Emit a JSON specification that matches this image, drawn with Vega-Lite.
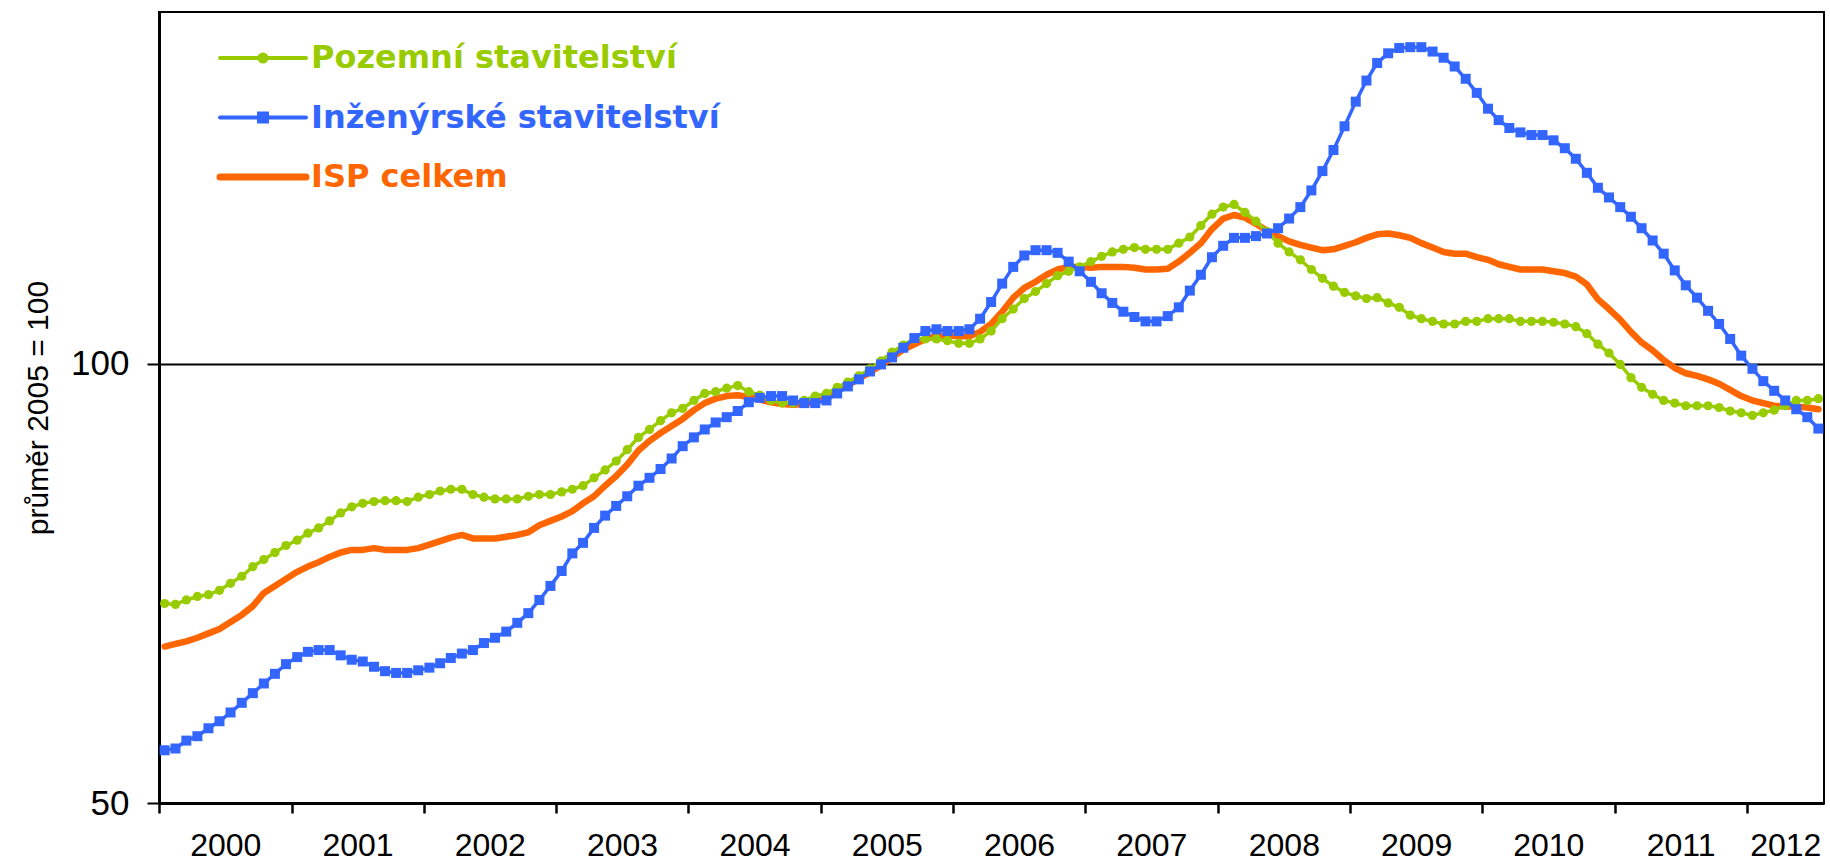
{
"$schema": "https://vega.github.io/schema/vega-lite/v6.json",
"width": 1665, "height": 791,
"autosize": {"type": "none"},
"padding": {"left": 159, "top": 12, "right": 6, "bottom": 60},
"background": "white",
"config": {"view": {"stroke": "black", "strokeWidth": 2}, "font": "Liberation Sans"},
"data": {"values": [
{"d":"2000-01-01","Pozemní stavitelství":72.7,"Inženýrské stavitelství":56.0,"ISP celkem":67.8},
{"d":"2000-02-01","Pozemní stavitelství":72.6,"Inženýrské stavitelství":56.2,"ISP celkem":68.1},
{"d":"2000-03-01","Pozemní stavitelství":73.1,"Inženýrské stavitelství":57.1,"ISP celkem":68.4},
{"d":"2000-04-01","Pozemní stavitelství":73.5,"Inženýrské stavitelství":57.6,"ISP celkem":68.8},
{"d":"2000-05-01","Pozemní stavitelství":73.7,"Inženýrské stavitelství":58.5,"ISP celkem":69.3},
{"d":"2000-06-01","Pozemní stavitelství":74.2,"Inženýrské stavitelství":59.3,"ISP celkem":69.8},
{"d":"2000-07-01","Pozemní stavitelství":75.0,"Inženýrské stavitelství":60.3,"ISP celkem":70.6},
{"d":"2000-08-01","Pozemní stavitelství":75.8,"Inženýrské stavitelství":61.4,"ISP celkem":71.4},
{"d":"2000-09-01","Pozemní stavitelství":76.9,"Inženýrské stavitelství":62.5,"ISP celkem":72.4},
{"d":"2000-10-01","Pozemní stavitelství":77.7,"Inženýrské stavitelství":63.6,"ISP celkem":73.9},
{"d":"2000-11-01","Pozemní stavitelství":78.5,"Inženýrské stavitelství":64.7,"ISP celkem":74.7},
{"d":"2000-12-01","Pozemní stavitelství":79.3,"Inženýrské stavitelství":65.8,"ISP celkem":75.5},
{"d":"2001-01-01","Pozemní stavitelství":79.9,"Inženýrské stavitelství":66.6,"ISP celkem":76.3},
{"d":"2001-02-01","Pozemní stavitelství":80.7,"Inženýrské stavitelství":67.2,"ISP celkem":76.9},
{"d":"2001-03-01","Pozemní stavitelství":81.3,"Inženýrské stavitelství":67.4,"ISP celkem":77.4},
{"d":"2001-04-01","Pozemní stavitelství":82.1,"Inženýrské stavitelství":67.4,"ISP celkem":78.0},
{"d":"2001-05-01","Pozemní stavitelství":83.0,"Inženýrské stavitelství":66.8,"ISP celkem":78.5},
{"d":"2001-06-01","Pozemní stavitelství":83.7,"Inženýrské stavitelství":66.3,"ISP celkem":78.8},
{"d":"2001-07-01","Pozemní stavitelství":84.1,"Inženýrské stavitelství":66.1,"ISP celkem":78.8},
{"d":"2001-08-01","Pozemní stavitelství":84.3,"Inženýrské stavitelství":65.5,"ISP celkem":79.0},
{"d":"2001-09-01","Pozemní stavitelství":84.4,"Inženýrské stavitelství":65.0,"ISP celkem":78.8},
{"d":"2001-10-01","Pozemní stavitelství":84.4,"Inženýrské stavitelství":64.8,"ISP celkem":78.8},
{"d":"2001-11-01","Pozemní stavitelství":84.3,"Inženýrské stavitelství":64.8,"ISP celkem":78.8},
{"d":"2001-12-01","Pozemní stavitelství":84.8,"Inženýrské stavitelství":65.1,"ISP celkem":79.0},
{"d":"2002-01-01","Pozemní stavitelství":85.1,"Inženýrské stavitelství":65.4,"ISP celkem":79.4},
{"d":"2002-02-01","Pozemní stavitelství":85.5,"Inženýrské stavitelství":65.9,"ISP celkem":79.8},
{"d":"2002-03-01","Pozemní stavitelství":85.7,"Inženýrské stavitelství":66.5,"ISP celkem":80.2},
{"d":"2002-04-01","Pozemní stavitelství":85.7,"Inženýrské stavitelství":67.0,"ISP celkem":80.5},
{"d":"2002-05-01","Pozemní stavitelství":85.1,"Inženýrské stavitelství":67.4,"ISP celkem":80.1},
{"d":"2002-06-01","Pozemní stavitelství":84.8,"Inženýrské stavitelství":68.2,"ISP celkem":80.1},
{"d":"2002-07-01","Pozemní stavitelství":84.6,"Inženýrské stavitelství":68.8,"ISP celkem":80.1},
{"d":"2002-08-01","Pozemní stavitelství":84.6,"Inženýrské stavitelství":69.5,"ISP celkem":80.3},
{"d":"2002-09-01","Pozemní stavitelství":84.6,"Inženýrské stavitelství":70.5,"ISP celkem":80.5},
{"d":"2002-10-01","Pozemní stavitelství":84.9,"Inženýrské stavitelství":71.6,"ISP celkem":80.8},
{"d":"2002-11-01","Pozemní stavitelství":85.1,"Inženýrské stavitelství":73.1,"ISP celkem":81.6},
{"d":"2002-12-01","Pozemní stavitelství":85.1,"Inženýrské stavitelství":74.7,"ISP celkem":82.1},
{"d":"2003-01-01","Pozemní stavitelství":85.4,"Inženýrské stavitelství":76.4,"ISP celkem":82.6},
{"d":"2003-02-01","Pozemní stavitelství":85.7,"Inženýrské stavitelství":78.4,"ISP celkem":83.2},
{"d":"2003-03-01","Pozemní stavitelství":86.1,"Inženýrské stavitelství":79.6,"ISP celkem":84.1},
{"d":"2003-04-01","Pozemní stavitelství":87.0,"Inženýrské stavitelství":81.3,"ISP celkem":84.9},
{"d":"2003-05-01","Pozemní stavitelství":87.9,"Inženýrské stavitelství":82.7,"ISP celkem":86.1},
{"d":"2003-06-01","Pozemní stavitelství":88.9,"Inženýrské stavitelství":83.8,"ISP celkem":87.2},
{"d":"2003-07-01","Pozemní stavitelství":90.2,"Inženýrské stavitelství":84.9,"ISP celkem":88.5},
{"d":"2003-08-01","Pozemní stavitelství":91.6,"Inženýrské stavitelství":86.1,"ISP celkem":90.1},
{"d":"2003-09-01","Pozemní stavitelství":92.5,"Inženýrské stavitelství":87.0,"ISP celkem":91.2},
{"d":"2003-10-01","Pozemní stavitelství":93.5,"Inženýrské stavitelství":88.0,"ISP celkem":92.1},
{"d":"2003-11-01","Pozemní stavitelství":94.4,"Inženýrské stavitelství":89.2,"ISP celkem":92.9},
{"d":"2003-12-01","Pozemní stavitelství":94.9,"Inženýrské stavitelství":90.6,"ISP celkem":93.7},
{"d":"2004-01-01","Pozemní stavitelství":95.8,"Inženýrské stavitelství":91.6,"ISP celkem":94.7},
{"d":"2004-02-01","Pozemní stavitelství":96.6,"Inženýrské stavitelství":92.5,"ISP celkem":95.5},
{"d":"2004-03-01","Pozemní stavitelství":96.8,"Inženýrské stavitelství":93.3,"ISP celkem":96.0},
{"d":"2004-04-01","Pozemní stavitelství":97.2,"Inženýrské stavitelství":93.9,"ISP celkem":96.3},
{"d":"2004-05-01","Pozemní stavitelství":97.5,"Inženýrské stavitelství":94.6,"ISP celkem":96.4},
{"d":"2004-06-01","Pozemní stavitelství":96.8,"Inženýrské stavitelství":95.6,"ISP celkem":96.2},
{"d":"2004-07-01","Pozemní stavitelství":96.4,"Inženýrské stavitelství":96.1,"ISP celkem":95.9},
{"d":"2004-08-01","Pozemní stavitelství":95.8,"Inženýrské stavitelství":96.3,"ISP celkem":95.6},
{"d":"2004-09-01","Pozemní stavitelství":95.5,"Inženýrské stavitelství":96.3,"ISP celkem":95.4},
{"d":"2004-10-01","Pozemní stavitelství":95.5,"Inženýrské stavitelství":95.8,"ISP celkem":95.3},
{"d":"2004-11-01","Pozemní stavitelství":95.8,"Inženýrské stavitelství":95.5,"ISP celkem":95.4},
{"d":"2004-12-01","Pozemní stavitelství":96.3,"Inženýrské stavitelství":95.5,"ISP celkem":95.6},
{"d":"2005-01-01","Pozemní stavitelství":96.6,"Inženýrské stavitelství":95.8,"ISP celkem":96.1},
{"d":"2005-02-01","Pozemní stavitelství":97.3,"Inženýrské stavitelství":96.6,"ISP celkem":96.9},
{"d":"2005-03-01","Pozemní stavitelství":97.9,"Inženýrské stavitelství":97.4,"ISP celkem":97.5},
{"d":"2005-04-01","Pozemní stavitelství":98.6,"Inženýrské stavitelství":98.2,"ISP celkem":98.3},
{"d":"2005-05-01","Pozemní stavitelství":99.4,"Inženýrské stavitelství":99.1,"ISP celkem":99.0},
{"d":"2005-06-01","Pozemní stavitelství":100.3,"Inženýrské stavitelství":99.9,"ISP celkem":99.8},
{"d":"2005-07-01","Pozemní stavitelství":101.3,"Inženýrské stavitelství":100.7,"ISP celkem":100.7},
{"d":"2005-08-01","Pozemní stavitelství":102.1,"Inženýrské stavitelství":101.8,"ISP celkem":101.6},
{"d":"2005-09-01","Pozemní stavitelství":102.8,"Inženýrské stavitelství":102.9,"ISP celkem":102.2},
{"d":"2005-10-01","Pozemní stavitelství":102.8,"Inženýrské stavitelství":103.7,"ISP celkem":102.8},
{"d":"2005-11-01","Pozemní stavitelství":102.8,"Inženýrské stavitelství":103.9,"ISP celkem":103.1},
{"d":"2005-12-01","Pozemní stavitelství":102.6,"Inženýrské stavitelství":103.7,"ISP celkem":103.2},
{"d":"2006-01-01","Pozemní stavitelství":102.3,"Inženýrské stavitelství":103.7,"ISP celkem":103.1},
{"d":"2006-02-01","Pozemní stavitelství":102.3,"Inženýrské stavitelství":103.9,"ISP celkem":103.1},
{"d":"2006-03-01","Pozemní stavitelství":102.8,"Inženýrské stavitelství":105.1,"ISP celkem":103.6},
{"d":"2006-04-01","Pozemní stavitelství":103.7,"Inženýrské stavitelství":107.0,"ISP celkem":104.5},
{"d":"2006-05-01","Pozemní stavitelství":105.1,"Inženýrské stavitelství":109.1,"ISP celkem":105.9},
{"d":"2006-06-01","Pozemní stavitelství":106.2,"Inženýrské stavitelství":111.0,"ISP celkem":107.5},
{"d":"2006-07-01","Pozemní stavitelství":107.4,"Inženýrské stavitelství":112.3,"ISP celkem":108.6},
{"d":"2006-08-01","Pozemní stavitelství":108.2,"Inženýrské stavitelství":112.9,"ISP celkem":109.3},
{"d":"2006-09-01","Pozemní stavitelství":109.1,"Inženýrské stavitelství":112.9,"ISP celkem":110.1},
{"d":"2006-10-01","Pozemní stavitelství":110.0,"Inženýrské stavitelství":112.6,"ISP celkem":110.7},
{"d":"2006-11-01","Pozemní stavitelství":110.5,"Inženýrské stavitelství":111.6,"ISP celkem":111.0},
{"d":"2006-12-01","Pozemní stavitelství":111.0,"Inženýrské stavitelství":110.5,"ISP celkem":111.0},
{"d":"2007-01-01","Pozemní stavitelství":111.6,"Inženýrské stavitelství":109.3,"ISP celkem":110.9},
{"d":"2007-02-01","Pozemní stavitelství":112.2,"Inženýrské stavitelství":108.0,"ISP celkem":111.0},
{"d":"2007-03-01","Pozemní stavitelství":112.7,"Inženýrské stavitelství":106.9,"ISP celkem":111.0},
{"d":"2007-04-01","Pozemní stavitelství":113.0,"Inženýrské stavitelství":105.9,"ISP celkem":111.0},
{"d":"2007-05-01","Pozemní stavitelství":113.2,"Inženýrské stavitelství":105.3,"ISP celkem":110.9},
{"d":"2007-06-01","Pozemní stavitelství":113.0,"Inženýrské stavitelství":104.8,"ISP celkem":110.7},
{"d":"2007-07-01","Pozemní stavitelství":113.0,"Inženýrské stavitelství":104.8,"ISP celkem":110.7},
{"d":"2007-08-01","Pozemní stavitelství":113.0,"Inženýrské stavitelství":105.4,"ISP celkem":110.8},
{"d":"2007-09-01","Pozemní stavitelství":113.7,"Inženýrské stavitelství":106.4,"ISP celkem":111.6},
{"d":"2007-10-01","Pozemní stavitelství":114.4,"Inženýrské stavitelství":108.3,"ISP celkem":112.6},
{"d":"2007-11-01","Pozemní stavitelství":115.7,"Inženýrské stavitelství":110.1,"ISP celkem":113.7},
{"d":"2007-12-01","Pozemní stavitelství":117.0,"Inženýrské stavitelství":112.1,"ISP celkem":115.3},
{"d":"2008-01-01","Pozemní stavitelství":117.8,"Inženýrské stavitelství":113.4,"ISP celkem":116.5},
{"d":"2008-02-01","Pozemní stavitelství":118.1,"Inženýrské stavitelství":114.3,"ISP celkem":116.9},
{"d":"2008-03-01","Pozemní stavitelství":117.2,"Inženýrské stavitelství":114.3,"ISP celkem":116.6},
{"d":"2008-04-01","Pozemní stavitelství":116.2,"Inženýrské stavitelství":114.5,"ISP celkem":115.9},
{"d":"2008-05-01","Pozemní stavitelství":115.0,"Inženýrské stavitelství":114.8,"ISP celkem":115.1},
{"d":"2008-06-01","Pozemní stavitelství":113.7,"Inženýrské stavitelství":115.4,"ISP celkem":114.5},
{"d":"2008-07-01","Pozemní stavitelství":112.7,"Inženýrské stavitelství":116.5,"ISP celkem":113.9},
{"d":"2008-08-01","Pozemní stavitelství":111.8,"Inženýrské stavitelství":117.8,"ISP celkem":113.5},
{"d":"2008-09-01","Pozemní stavitelství":110.7,"Inženýrské stavitelství":119.7,"ISP celkem":113.2},
{"d":"2008-10-01","Pozemní stavitelství":109.7,"Inženýrské stavitelství":121.9,"ISP celkem":112.9},
{"d":"2008-11-01","Pozemní stavitelství":108.8,"Inženýrské stavitelství":124.3,"ISP celkem":113.0},
{"d":"2008-12-01","Pozemní stavitelství":108.1,"Inženýrské stavitelství":127.0,"ISP celkem":113.4},
{"d":"2009-01-01","Pozemní stavitelství":107.7,"Inženýrské stavitelství":129.8,"ISP celkem":113.8},
{"d":"2009-02-01","Pozemní stavitelství":107.4,"Inženýrské stavitelství":132.2,"ISP celkem":114.3},
{"d":"2009-03-01","Pozemní stavitelství":107.5,"Inženýrské stavitelství":134.2,"ISP celkem":114.7},
{"d":"2009-04-01","Pozemní stavitelství":106.9,"Inženýrské stavitelství":135.3,"ISP celkem":114.8},
{"d":"2009-05-01","Pozemní stavitelství":106.4,"Inženýrské stavitelství":135.9,"ISP celkem":114.6},
{"d":"2009-06-01","Pozemní stavitelství":105.5,"Inženýrské stavitelství":136.0,"ISP celkem":114.3},
{"d":"2009-07-01","Pozemní stavitelství":105.1,"Inženýrské stavitelství":136.0,"ISP celkem":113.7},
{"d":"2009-08-01","Pozemní stavitelství":104.8,"Inženýrské stavitelství":135.5,"ISP celkem":113.2},
{"d":"2009-09-01","Pozemní stavitelství":104.5,"Inženýrské stavitelství":134.8,"ISP celkem":112.7},
{"d":"2009-10-01","Pozemní stavitelství":104.5,"Inženýrské stavitelství":133.8,"ISP celkem":112.5},
{"d":"2009-11-01","Pozemní stavitelství":104.8,"Inženýrské stavitelství":132.4,"ISP celkem":112.5},
{"d":"2009-12-01","Pozemní stavitelství":104.8,"Inženýrské stavitelství":130.8,"ISP celkem":112.1},
{"d":"2010-01-01","Pozemní stavitelství":105.1,"Inženýrské stavitelství":129.0,"ISP celkem":111.8},
{"d":"2010-02-01","Pozemní stavitelství":105.1,"Inženýrské stavitelství":127.7,"ISP celkem":111.3},
{"d":"2010-03-01","Pozemní stavitelství":105.1,"Inženýrské stavitelství":126.8,"ISP celkem":111.0},
{"d":"2010-04-01","Pozemní stavitelství":104.8,"Inženýrské stavitelství":126.3,"ISP celkem":110.7},
{"d":"2010-05-01","Pozemní stavitelství":104.8,"Inženýrské stavitelství":126.0,"ISP celkem":110.7},
{"d":"2010-06-01","Pozemní stavitelství":104.8,"Inženýrské stavitelství":126.0,"ISP celkem":110.7},
{"d":"2010-07-01","Pozemní stavitelství":104.7,"Inženýrské stavitelství":125.4,"ISP celkem":110.5},
{"d":"2010-08-01","Pozemní stavitelství":104.5,"Inženýrské stavitelství":124.5,"ISP celkem":110.3},
{"d":"2010-09-01","Pozemní stavitelství":104.2,"Inženýrské stavitelství":123.3,"ISP celkem":109.9},
{"d":"2010-10-01","Pozemní stavitelství":103.4,"Inženýrské stavitelství":121.7,"ISP celkem":109.0},
{"d":"2010-11-01","Pozemní stavitelství":102.2,"Inženýrské stavitelství":120.0,"ISP celkem":107.3},
{"d":"2010-12-01","Pozemní stavitelství":101.2,"Inženýrské stavitelství":118.9,"ISP celkem":106.2},
{"d":"2011-01-01","Pozemní stavitelství":99.9,"Inženýrské stavitelství":117.8,"ISP celkem":105.0},
{"d":"2011-02-01","Pozemní stavitelství":98.4,"Inženýrské stavitelství":116.7,"ISP celkem":103.6},
{"d":"2011-03-01","Pozemní stavitelství":97.3,"Inženýrské stavitelství":115.4,"ISP celkem":102.4},
{"d":"2011-04-01","Pozemní stavitelství":96.5,"Inženýrské stavitelství":114.0,"ISP celkem":101.5},
{"d":"2011-05-01","Pozemní stavitelství":95.8,"Inženýrské stavitelství":112.5,"ISP celkem":100.4},
{"d":"2011-06-01","Pozemní stavitelství":95.5,"Inženýrské stavitelství":110.6,"ISP celkem":99.5},
{"d":"2011-07-01","Pozemní stavitelství":95.2,"Inženýrské stavitelství":108.9,"ISP celkem":98.9},
{"d":"2011-08-01","Pozemní stavitelství":95.2,"Inženýrské stavitelství":107.5,"ISP celkem":98.6},
{"d":"2011-09-01","Pozemní stavitelství":95.2,"Inženýrské stavitelství":106.0,"ISP celkem":98.2},
{"d":"2011-10-01","Pozemní stavitelství":95.0,"Inženýrské stavitelství":104.5,"ISP celkem":97.7},
{"d":"2011-11-01","Pozemní stavitelství":94.6,"Inženýrské stavitelství":102.8,"ISP celkem":97.0},
{"d":"2011-12-01","Pozemní stavitelství":94.4,"Inženýrské stavitelství":100.9,"ISP celkem":96.3},
{"d":"2012-01-01","Pozemní stavitelství":94.1,"Inženýrské stavitelství":99.4,"ISP celkem":95.8},
{"d":"2012-02-01","Pozemní stavitelství":94.4,"Inženýrské stavitelství":98.0,"ISP celkem":95.5},
{"d":"2012-03-01","Pozemní stavitelství":94.7,"Inženýrské stavitelství":96.9,"ISP celkem":95.2},
{"d":"2012-04-01","Pozemní stavitelství":95.2,"Inženýrské stavitelství":95.8,"ISP celkem":95.1},
{"d":"2012-05-01","Pozemní stavitelství":95.8,"Inženýrské stavitelství":94.8,"ISP celkem":95.1},
{"d":"2012-06-01","Pozemní stavitelství":95.8,"Inženýrské stavitelství":93.9,"ISP celkem":95.0},
{"d":"2012-07-01","Pozemní stavitelství":96.0,"Inženýrské stavitelství":92.6,"ISP celkem":94.8}
]},
"transform": [{"fold": ["Pozemní stavitelství", "Inženýrské stavitelství", "ISP celkem"], "as": ["s", "v"]}],
"encoding": {
  "x": {"field": "d", "type": "temporal", "timeUnit": "utcyearmonth", "bandPosition": 0.5,
    "scale": {"domain": [{"year": 2000, "month": 1, "date": 1, "utc": true}, {"year": 2012, "month": 8, "date": 1, "utc": true}]},
    "axis": {
      "title": null, "grid": false,
      "values": [
        {"year": 2000, "month": 1, "date": 1, "utc": true}, {"year": 2001, "month": 1, "date": 1, "utc": true},
        {"year": 2002, "month": 1, "date": 1, "utc": true}, {"year": 2003, "month": 1, "date": 1, "utc": true},
        {"year": 2004, "month": 1, "date": 1, "utc": true}, {"year": 2005, "month": 1, "date": 1, "utc": true},
        {"year": 2006, "month": 1, "date": 1, "utc": true}, {"year": 2007, "month": 1, "date": 1, "utc": true},
        {"year": 2008, "month": 1, "date": 1, "utc": true}, {"year": 2009, "month": 1, "date": 1, "utc": true},
        {"year": 2010, "month": 1, "date": 1, "utc": true}, {"year": 2011, "month": 1, "date": 1, "utc": true},
        {"year": 2012, "month": 1, "date": 1, "utc": true},
        {"year": 2000, "month": 7, "date": 2, "utc": true}, {"year": 2001, "month": 7, "date": 2, "utc": true},
        {"year": 2002, "month": 7, "date": 2, "utc": true}, {"year": 2003, "month": 7, "date": 2, "utc": true},
        {"year": 2004, "month": 7, "date": 2, "utc": true}, {"year": 2005, "month": 7, "date": 2, "utc": true},
        {"year": 2006, "month": 7, "date": 2, "utc": true}, {"year": 2007, "month": 7, "date": 2, "utc": true},
        {"year": 2008, "month": 7, "date": 2, "utc": true}, {"year": 2009, "month": 7, "date": 2, "utc": true},
        {"year": 2010, "month": 7, "date": 2, "utc": true}, {"year": 2011, "month": 7, "date": 2, "utc": true},
        {"year": 2012, "month": 4, "date": 16, "utc": true}
      ],
      "labelExpr": "utcmonth(datum.value) === 0 ? '' : utcFormat(datum.value, '%Y')",
      "tickOpacity": {"condition": {"test": "utcmonth(datum.value) !== 0", "value": 0}, "value": 1},
      "tickSize": 10, "tickWidth": 2.5, "tickColor": "black",
      "domainColor": "black", "domainWidth": 3,
      "labelFont": "Liberation Sans", "labelFontSize": 32, "labelColor": "black", "labelPadding": 17,
      "labelFlush": false, "labelOverlap": false
    }},
  "y": {"field": "v", "type": "quantitative",
    "scale": {"domain": [50, 140], "nice": false, "zero": false},
    "axis": {
      "values": [50, 100], "title": "průměr 2005 = 100",
      "titleFont": "Liberation Sans", "titleFontSize": 30, "titleFontWeight": "normal", "titleColor": "black", "titlePadding": 17,
      "grid": true, "gridColor": "black", "gridWidth": 2, "gridOpacity": 1,
      "tickSize": 12, "tickWidth": 2, "tickColor": "black",
      "domainColor": "black", "domainWidth": 3,
      "labelFont": "Liberation Sans", "labelFontSize": 35, "labelColor": "black", "labelPadding": 18
    }},
  "color": {"field": "s", "type": "nominal",
    "scale": {"domain": ["Pozemní stavitelství", "Inženýrské stavitelství", "ISP celkem"], "range": ["#99CC00", "#3366FF", "#FF6600"]},
    "legend": {
      "orient": "none", "legendX": 61, "legendY": 30, "title": null, "padding": 0,
      "symbolSize": 100, "symbolOffset": 27, "labelOffset": 32, "rowPadding": 27.5,
      "labelFont": "DejaVu Sans", "labelFontWeight": "bold", "labelFontSize": 32, "labelLimit": 800,
      "encode": {
        "symbols": {"update": {
          "shape": {"signal": "datum.value === 'ISP celkem' ? 'M-8.6,0H8.6' : (datum.value === 'Pozemní stavitelství' ? 'M-8.6,0H8.6M0.7,0A0.7,0.7,0,1,1,-0.7,0A0.7,0.7,0,1,1,0.7,0Z' : 'M-8.6,0H8.6M-0.8,-0.8H0.8V0.8H-0.8Z')"},
          "fill": {"scale": "color", "field": "value"},
          "stroke": {"scale": "color", "field": "value"},
          "strokeWidth": {"signal": "datum.value === 'ISP celkem' ? 7 : 4"},
          "strokeCap": {"value": "round"},
          "opacity": {"value": 1}
        }},
        "labels": {"update": {"fill": {"scale": "color", "field": "value"}}}
      }
    }}
},
"layer": [
  {"transform": [{"filter": "datum.s === 'ISP celkem'"}],
   "mark": {"type": "line", "strokeWidth": 6.5, "strokeJoin": "round", "strokeCap": "round"}},
  {"transform": [{"filter": "datum.s === 'Pozemní stavitelství'"}],
   "mark": {"type": "line", "strokeWidth": 3.5, "point": {"filled": true, "size": 85, "shape": "circle"}}},
  {"transform": [{"filter": "datum.s === 'Inženýrské stavitelství'"}],
   "mark": {"type": "line", "strokeWidth": 3.5, "point": {"filled": true, "size": 100, "shape": "square"}}}
]
}
